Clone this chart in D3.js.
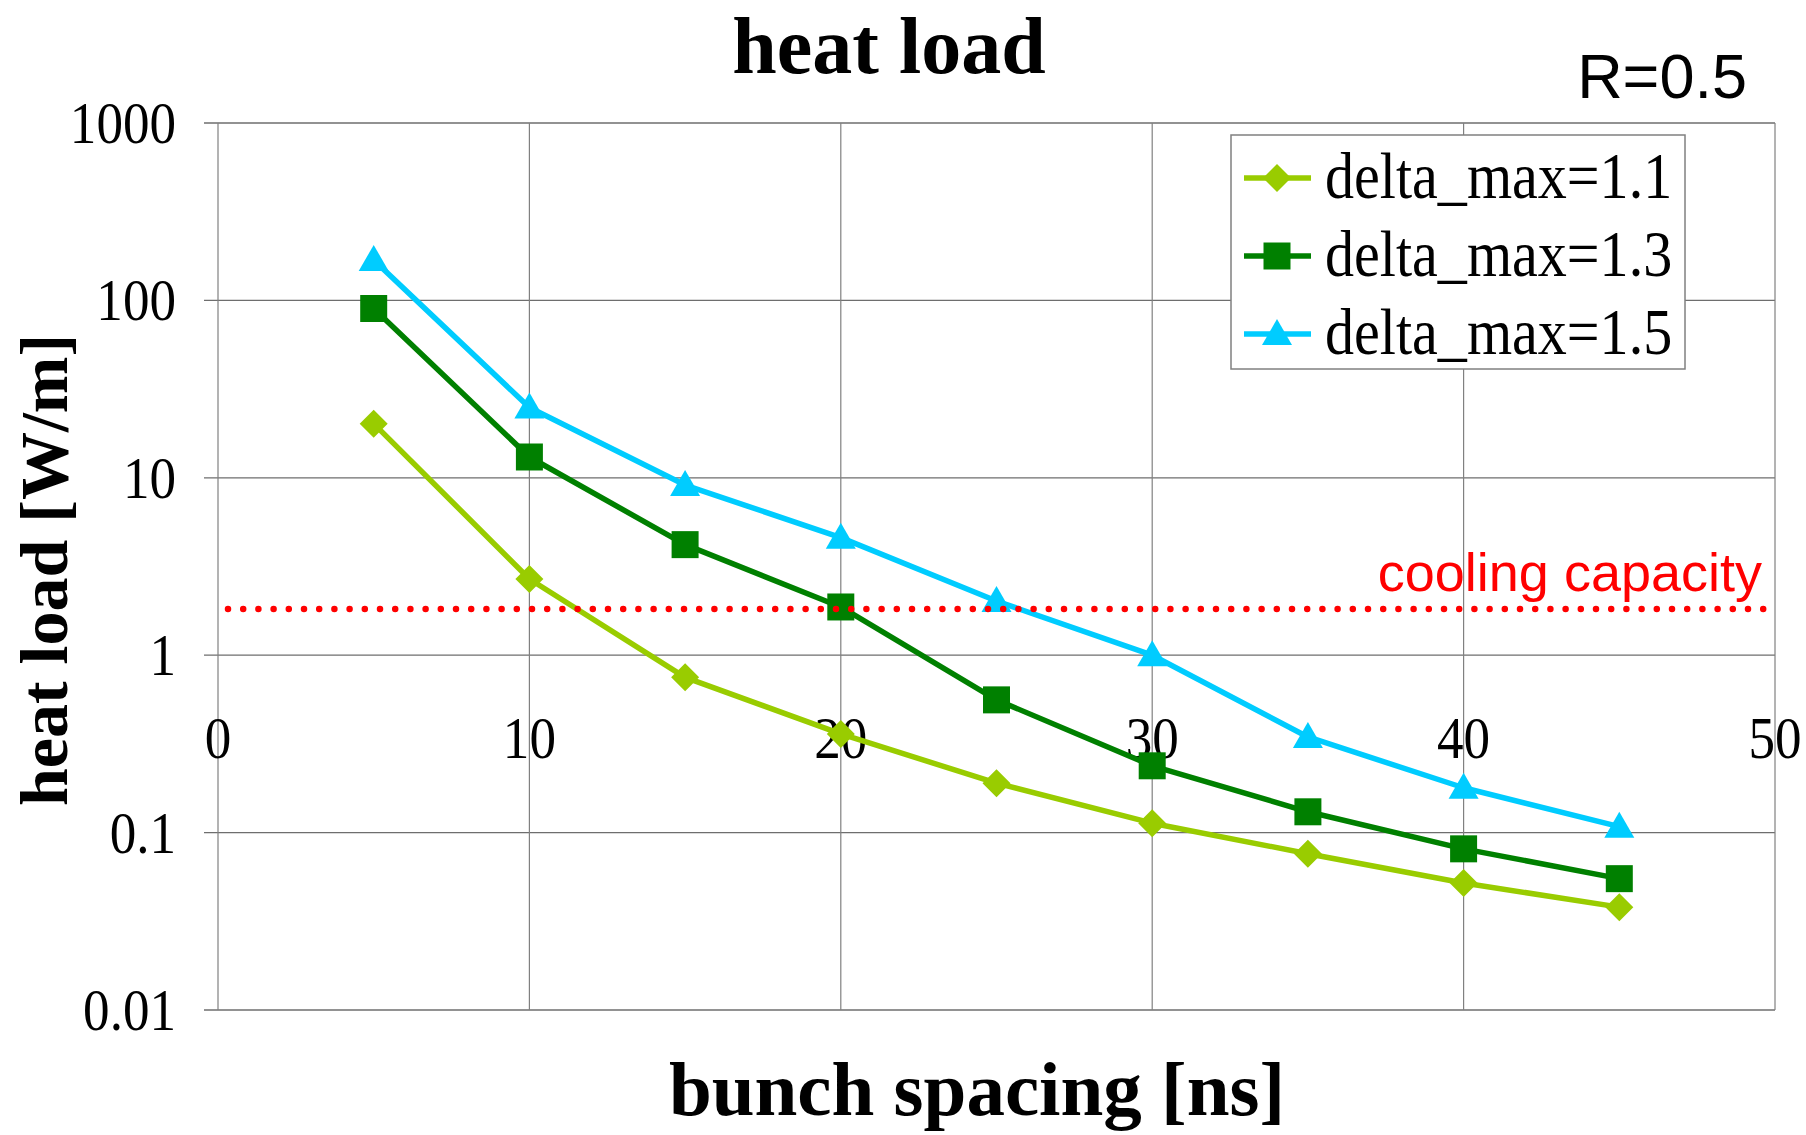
<!DOCTYPE html>
<html>
<head>
<meta charset="utf-8">
<script src="https://cdn.jsdelivr.net/npm/d3@7"></script>
<style>
  html, body { margin: 0; padding: 0; background: #fff; }
  svg { display: block; }
</style>
</head>
<body>
<svg id="chart" width="1806" height="1135"></svg>
<script>
// data
const spacing = [5, 10, 15, 20, 25, 30, 35, 40, 45];
const dmax11 = [20.2, 2.69, 0.75, 0.36, 0.19, 0.113, 0.076, 0.052, 0.038];
const dmax13 = [90, 13.1, 4.2, 1.87, 0.56, 0.238, 0.131, 0.081, 0.055];
const dmax15 = [169, 24.9, 9.1, 4.6, 2.02, 1.0, 0.346, 0.179, 0.108];
const seriesNames = ["delta_max=1.1", "delta_max=1.3", "delta_max=1.5"];
const seriesColors = ["#99CC00", "#008000", "#00CCFF"];
const seriesMarkers = ["diamond", "square", "triangle"];
const xTicks = [0, 10, 20, 30, 40, 50];
const yTicks = [0.01, 0.1, 1, 10, 100, 1000];
const coolingCapacity = 1.82;

const svg = d3.select("#chart"),
      margin = {top: 123, right: 31, bottom: 125, left: 218},
      width = +svg.attr("width") - margin.left - margin.right,
      height = +svg.attr("height") - margin.top - margin.bottom;

const serif = "'Liberation Serif', 'Times New Roman', serif";
const sans = "'Liberation Sans', Arial, sans-serif";

const g = svg.append("g").attr("transform", `translate(${margin.left},${margin.top})`);

const x = d3.scaleLinear().domain([0, 50]).range([0, width]);
const y = d3.scaleLog().domain([0.01, 1000]).range([height, 0]);

// grid
g.append("g").selectAll("line")
  .data(yTicks)
  .join("line")
  .attr("x1", -14).attr("x2", width)
  .attr("y1", d => y(d)).attr("y2", d => y(d))
  .attr("stroke", "#6e6e6e").attr("stroke-width", 1.3);

g.append("g").selectAll("line")
  .data(xTicks)
  .join("line")
  .attr("x1", d => x(d)).attr("x2", d => x(d))
  .attr("y1", 0).attr("y2", height)
  .attr("stroke", "#808080").attr("stroke-width", 1.2);

// y tick labels (condensed serif)
g.append("g").selectAll("text")
  .data(yTicks)
  .join("text")
  .attr("transform", d => `translate(-42,${y(d) + 20}) scale(0.9,1)`)
  .attr("text-anchor", "end")
  .style("font-family", serif)
  .style("font-size", "59px")
  .text(d => String(d));

// x tick labels sit under the y=1 line
g.append("g").selectAll("text")
  .data(xTicks)
  .join("text")
  .attr("transform", d => `translate(${x(d)},${y(1) + 103}) scale(0.9,1)`)
  .attr("text-anchor", "middle")
  .style("font-family", serif)
  .style("font-size", "59px")
  .text(d => d);

// series
const series = [dmax11, dmax13, dmax15].map((vals, i) => ({
  name: seriesNames[i],
  color: seriesColors[i],
  marker: seriesMarkers[i],
  points: spacing.map((s, j) => ({x: s, y: vals[j]}))
}));

function markerPath(type) {
  if (type === "diamond") return "M0,-14L14,0L0,14L-14,0Z";
  if (type === "square") return "M-13.5,-13.5H13.5V13.5H-13.5Z";
  return "M0,-15L15,11L-15,11Z";
}

const line = d3.line().x(d => x(d.x)).y(d => y(d.y));

series.forEach(s => {
  g.append("path")
    .datum(s.points)
    .attr("d", line)
    .attr("fill", "none")
    .attr("stroke", s.color)
    .attr("stroke-width", 5.5)
    .attr("stroke-linejoin", "round");
  g.append("g").selectAll("path")
    .data(s.points)
    .join("path")
    .attr("transform", d => `translate(${x(d.x)},${y(d.y)})`)
    .attr("d", markerPath(s.marker))
    .attr("fill", s.color);
});

// cooling capacity line
g.append("line")
  .attr("x1", 10).attr("x2", width)
  .attr("y1", y(coolingCapacity)).attr("y2", y(coolingCapacity))
  .attr("stroke", "#FF0000")
  .attr("stroke-width", 6.5)
  .attr("stroke-linecap", "round")
  .attr("stroke-dasharray", "0 15.2");

g.append("text")
  .attr("x", width - 13)
  .attr("y", y(coolingCapacity) - 18)
  .attr("text-anchor", "end")
  .attr("fill", "#FF0000")
  .style("font-family", sans)
  .style("font-size", "54px")
  .text("cooling capacity");

// legend
const legend = g.append("g").attr("transform", `translate(${1231 - margin.left},${135 - margin.top})`);
legend.append("rect")
  .attr("width", 454).attr("height", 234)
  .attr("fill", "#fff")
  .attr("stroke", "#808080").attr("stroke-width", 1.5);

series.forEach((s, i) => {
  const row = legend.append("g").attr("transform", `translate(0,${43 + i * 78})`);
  row.append("line")
    .attr("x1", 13).attr("x2", 80)
    .attr("stroke", s.color).attr("stroke-width", 5.5);
  row.append("path")
    .attr("transform", "translate(46,0)")
    .attr("d", markerPath(s.marker))
    .attr("fill", s.color);
  row.append("text")
    .attr("transform", "translate(94,20) scale(0.88,1)")
    .style("font-family", serif)
    .style("font-size", "66px")
    .text(s.name);
});

// titles
svg.append("text")
  .attr("x", 889).attr("y", 73)
  .attr("text-anchor", "middle")
  .style("font-family", serif)
  .style("font-weight", "bold")
  .style("font-size", "80px")
  .text("heat load");

svg.append("text")
  .attr("x", 1747).attr("y", 98)
  .attr("text-anchor", "end")
  .style("font-family", sans)
  .style("font-size", "63px")
  .text("R=0.5");

svg.append("text")
  .attr("x", 977).attr("y", 1115)
  .attr("text-anchor", "middle")
  .style("font-family", serif)
  .style("font-weight", "bold")
  .style("font-size", "77px")
  .text("bunch spacing [ns]");

svg.append("text")
  .attr("transform", "translate(67,570) rotate(-90)")
  .attr("text-anchor", "middle")
  .style("font-family", serif)
  .style("font-weight", "bold")
  .style("font-size", "68px")
  .text("heat load [W/m]");
</script>
</body>
</html>
